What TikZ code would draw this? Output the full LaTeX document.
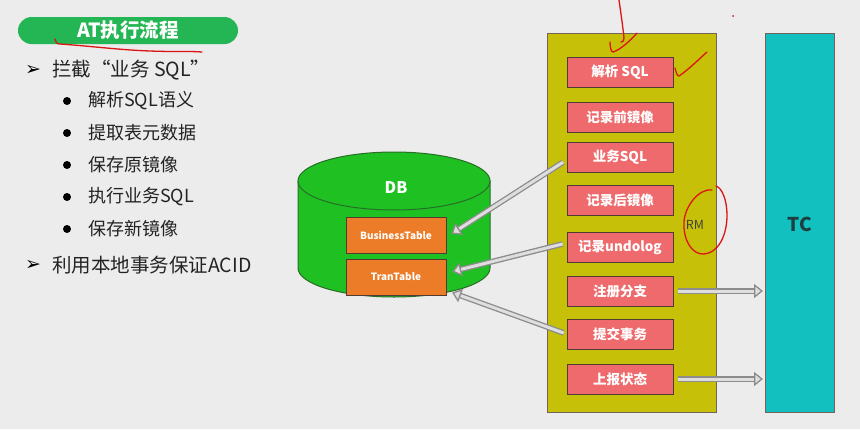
\documentclass[tikz,border=0pt]{standalone}
\usepackage{fontspec}
\setmainfont{Noto Sans CJK SC}
\newfontfamily\djv{DejaVu Sans}
\usetikzlibrary{arrows.meta}
\definecolor{bg}{RGB}{236,236,236}
\definecolor{pillgreen}{RGB}{36,182,84}
\definecolor{dbgreen}{RGB}{30,192,34}
\definecolor{dbedge}{RGB}{40,110,40}
\definecolor{orangebox}{RGB}{236,124,40}
\definecolor{boxedge}{RGB}{80,60,50}
\definecolor{olive}{RGB}{198,192,8}
\definecolor{redbox}{RGB}{238,106,108}
\definecolor{tccyan}{RGB}{18,192,192}
\definecolor{tctext}{RGB}{30,62,64}
\definecolor{arrowgray}{RGB}{140,140,140}
\definecolor{arrowlight}{RGB}{222,222,222}
\definecolor{pen}{RGB}{220,20,20}
\definecolor{txt}{RGB}{35,35,35}
\tikzset{
  pill/.style={fill=pillgreen, rounded corners=13.5pt, minimum width=220, minimum height=27, inner sep=0, text=white, font=\fontsize{19.5}{21}\selectfont\bfseries},
  bigtext/.style={anchor=west, inner sep=0, text=txt, font=\fontsize{19.5}{21}\selectfont},
  subtext/.style={anchor=west, inner sep=0, text=txt, font=\fontsize{18}{20}\selectfont},
  dot/.style={circle, fill=black, inner sep=0, minimum size=8},
  tri/.style={inner sep=0, text=black, font=\djv\fontsize{19}{21}\selectfont},
  obox/.style={fill=orangebox, draw=boxedge, line width=1pt, minimum width=100, minimum height=36, inner sep=0, text=white, font=\fontsize{10}{12}\selectfont\bfseries},
  rbox/.style={fill=redbox, draw=boxedge, line width=1pt, minimum width=106, minimum height=30, inner sep=0, text=white, font=\fontsize{13.5}{15}\selectfont\bfseries},
  garrow/.style={draw=arrowgray, line width=1.3pt, double=arrowlight, double distance=3pt, -{Triangle[length=9pt, width=14pt, fill=arrowlight, line width=1.3pt]}},
  penline/.style={draw=pen, line width=1.3pt, line cap=round, line join=round},
}
\begin{document}
\begin{tikzpicture}[x=1pt, y=-1pt]
\fill[bg] (0,0) rectangle (860,429);
\useasboundingbox (0,0) rectangle (860,429);

% title
\node[pill] (title) at (128,30.5) {AT执行流程};

% bullet list
\node[tri] (t1) at (33,70) {➢};
\node[bigtext] (b1) at (52,70) {拦截“业务 SQL”};
\node[dot] (d1) at (67,101) {};
\node[subtext] (s1) at (88,101) {解析SQL语义};
\node[dot] (d2) at (67,133) {};
\node[subtext] (s2) at (88,133) {提取表元数据};
\node[dot] (d3) at (67,165) {};
\node[subtext] (s3) at (88,165) {保存原镜像};
\node[dot] (d4) at (67,197) {};
\node[subtext] (s4) at (88,197) {执行业务SQL};
\node[dot] (d5) at (67,229) {};
\node[subtext] (s5) at (88,229) {保存新镜像};
\node[tri] (t2) at (33,265) {➢};
\node[bigtext] (b2) at (52,265) {利用本地事务保证ACID};

% DB cylinder
\path[fill=dbgreen, draw=dbedge, line width=1pt]
  (298,181) -- (298,268) arc[start angle=180, end angle=360, x radius=96pt, y radius=29pt] -- (490,181) -- cycle;
\path[fill=dbgreen, draw=dbedge, line width=1pt] (394,181) ellipse[x radius=96pt, y radius=29pt];
\node[text=white, font=\fontsize{16}{18}\selectfont\bfseries] (db) at (396,188) {DB};
\node[obox] (bt) at (396,235.5) {BusinessTable};
\node[obox] (tt) at (396,277) {TranTable};

% RM and TC
\path[fill=olive, draw=boxedge!80, line width=1pt] (547,33) rectangle (716,412);
\path[fill=tccyan, draw=boxedge!80, line width=1pt] (765,33) rectangle (834,412);
\coordinate (tcw) at (765,222);
\node[text=tctext, font=\fontsize{19}{21}\selectfont\bfseries] (tclabel) at (800,224) {TC};
\node[text=black!75, font=\fontsize{12.5}{14}\selectfont] (rmlabel) at (695,225) {RM};

\node[rbox] (r1) at (620,72.5) {解析 SQL};
\node[rbox] (r2) at (620,117) {记录前镜像};
\node[rbox] (r3) at (620,157) {业务SQL};
\node[rbox] (r4) at (620,200) {记录后镜像};
\node[rbox] (r5) at (620,247) {记录undolog};
\node[rbox] (r6) at (620,291) {注册分支};
\node[rbox] (r7) at (620,334) {提交事务};
\node[rbox] (r8) at (620,379) {上报状态};

% arrows
\draw[garrow, shorten <=4pt, shorten >=6pt] ([yshift=-3pt]r3.west) -- ([yshift=-1.5pt]bt.east);
\draw[garrow, shorten <=4pt, shorten >=6pt] ([yshift=4pt]r5.west) -- ([yshift=4pt]tt.east);
\draw[garrow, shorten <=3pt, shorten >=6pt] (r7.west) -- ([yshift=5pt]tt.south east);
\draw[garrow, shorten <=4pt, shorten >=2pt] (r6.east) -- (r6.east -| tcw);
\draw[garrow, shorten <=4pt, shorten >=2pt] (r8.east) -- (r8.east -| tcw);

% red pen annotations
\draw[penline] (55,39) .. controls (56,42) and (56,44) .. (60,44) .. controls (90,46) and (120,50) .. (150,51) .. controls (175,52) and (190,51) .. (202,52);
\draw[penline] (619,0) .. controls (621,14) and (623,28) .. (624,38) .. controls (624,41) and (623,42) .. (621,42);
\draw[penline] (610,42) .. controls (610,47) and (611,52) .. (613,52) .. controls (620,50) and (630,41) .. (637,33);
\draw[penline] (675,68) .. controls (676,72) and (677,76) .. (679,76) .. controls (688,70) and (698,60) .. (707,52);
\draw[penline] (712,190) .. controls (700,188) and (685,205) .. (684,222) .. controls (683,240) and (692,255) .. (704,254) .. controls (718,253) and (727,236) .. (727,215) .. controls (727,200) and (722,188) .. (716,186);
\fill[pen] (733,16) circle[radius=1pt];
\end{tikzpicture}
\end{document}
